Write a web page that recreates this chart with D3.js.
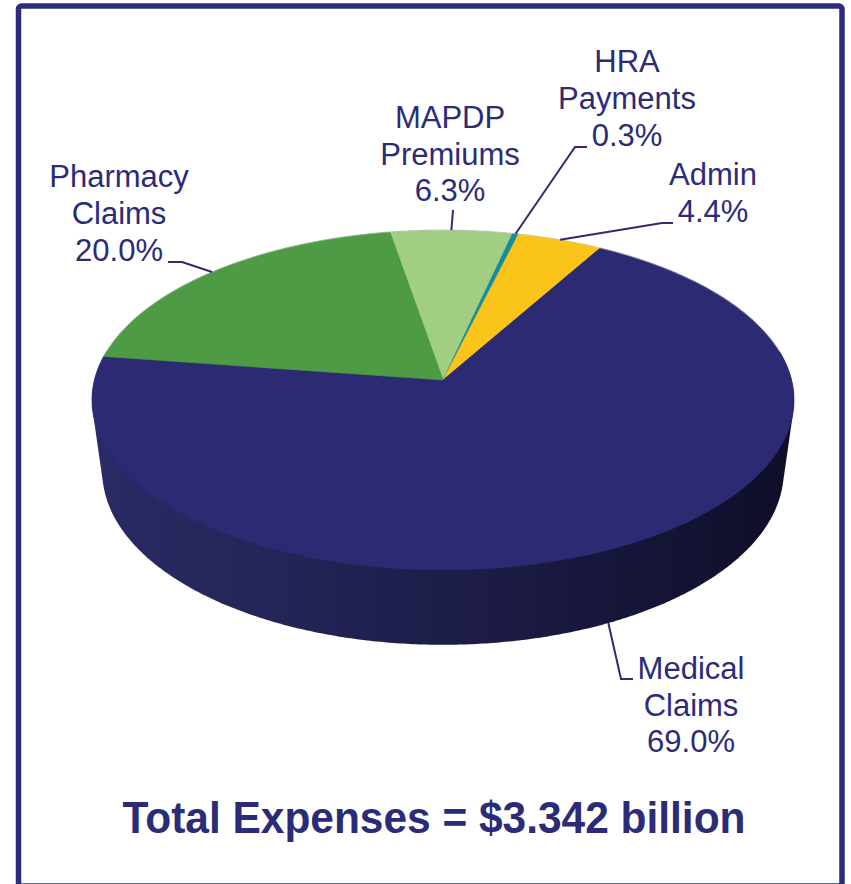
<!DOCTYPE html>
<html>
<head>
<meta charset="utf-8">
<script src="https://cdn.jsdelivr.net/npm/d3@7"></script>
<style>
  html, body { margin: 0; padding: 0; background: #ffffff; }
  svg { display: block; }
  text { font-family: "Liberation Sans", Arial, sans-serif; }
</style>
</head>
<body>
<svg id="chart" width="851" height="884"></svg>
<script>
// ---- data ----
const categories = ["MAPDP Premiums", "HRA Payments", "Admin", "Medical Claims", "Pharmacy Claims"];
const labelNames = [["MAPDP", "Premiums"], ["HRA", "Payments"], ["Admin"], ["Medical", "Claims"], ["Pharmacy", "Claims"]];
const values = [6.3, 0.3, 4.4, 69.0, 20.0];
const colors = ["#a0cf84", "#0f8fa5", "#fbc41b", "#2b2a73", "#4e9a45"];
const title = "Total Expenses = $3.342 billion";

// ---- layout ----
const ink = "#2b2b78";
const P = { cx: 443, cy: 380, A: 348.6, B: 167.6, k: 0.1176, m: 0.03, depth: 74 };
const startDeg = -9.8;

// label layout: text centre x, first baseline, line gap, leader elbow + end
const labelLayout = [
  { x: 450, y: 128, gap: 36.5, elbow: [453, 210], end: null, onSide: false },
  { x: 627, y: 72, gap: 37, elbow: [575, 147], end: [587, 147], onSide: false },
  { x: 713, y: 185, gap: 37, elbow: [662, 223], end: [673, 223], onSide: false },
  { x: 691, y: 679, gap: 36.5, elbow: [621, 679], end: [633, 679], onSide: true },
  { x: 119, y: 187, gap: 37, elbow: [182, 262], end: [168, 262], onSide: false }
];

const svg = d3.select("#chart");

// frame
svg.append("rect")
  .attr("x", 18.5).attr("y", 6).attr("width", 823.5).attr("height", 880)
  .attr("rx", 3)
  .attr("fill", "#fff").attr("stroke", "#2b2d7a").attr("stroke-width", 5.5);

// projection of disk point (angle clockwise from 12 o'clock), h=0 top, h=1 bottom
function proj(theta, h, r = 1) {
  const u = r * Math.sin(theta), v = -r * Math.cos(theta);
  const s = 1 / (1 - P.k * v + P.m * h);
  return [P.cx + P.A * u * s, P.cy + (P.B * v + P.depth * h) * s];
}

const pie = d3.pie().sort(null).value(d => d)
  .startAngle(startDeg * Math.PI / 180)
  .endAngle(startDeg * Math.PI / 180 + 2 * Math.PI);
const arcs = pie(values);

// side gradient
const defs = svg.append("defs");
const grad = defs.append("linearGradient").attr("id", "sideGrad")
  .attr("gradientUnits", "userSpaceOnUse")
  .attr("x1", 93).attr("y1", 0).attr("x2", 795).attr("y2", 0);
grad.append("stop").attr("offset", "0").attr("stop-color", "#2a2a66");
grad.append("stop").attr("offset", "0.15").attr("stop-color", "#27275d");
grad.append("stop").attr("offset", "0.55").attr("stop-color", "#1c1c47");
grad.append("stop").attr("offset", "1").attr("stop-color", "#0e0e28");

// body silhouette = hull of top and bottom rims (top face is drawn over it)
const ring = d3.range(0, 360, 0.5).map(d => d * Math.PI / 180);
const hull = d3.polygonHull(ring.map(a => proj(a, 0)).concat(ring.map(a => proj(a, 1))));
svg.append("path")
  .attr("d", d3.line()(hull) + "Z")
  .attr("fill", "url(#sideGrad)");

// top faces
function slicePath(a) {
  const n = Math.max(2, Math.ceil((a.endAngle - a.startAngle) / 0.01));
  const pts = [[P.cx, P.cy]];
  for (let i = 0; i <= n; i++) {
    const t = a.startAngle + (a.endAngle - a.startAngle) * i / n;
    pts.push(proj(t, 0));
  }
  return d3.line()(pts) + "Z";
}
svg.append("g").selectAll("path").data(arcs).join("path")
  .attr("d", d => slicePath(d))
  .attr("fill", (d, i) => colors[i])
  .attr("stroke", (d, i) => colors[i])
  .attr("stroke-width", 0.6);

// faint rim highlight on back edge
const rimPts = d3.range(-80, 81, 1).map(d => proj(d * Math.PI / 180, 0));
svg.append("path").attr("d", d3.line()(rimPts)).attr("fill", "none")
  .attr("stroke", "#d9d9d9").attr("stroke-width", 0.8).attr("opacity", 0.7);

// leaders + labels
const fmt = d3.format(".1f");
arcs.forEach((a, i) => {
  const L = labelLayout[i];
  const mid = (a.startAngle + a.endAngle) / 2;
  const anchor = proj(mid, L.onSide ? 1 : 0);
  const pts = [anchor, L.elbow];
  if (L.end) pts.push(L.end);
  svg.append("path").attr("d", d3.line()(pts))
    .attr("fill", "none").attr("stroke", ink).attr("stroke-width", 2);
  const lines = labelNames[i].concat([fmt(values[i]) + "%"]);
  const t = svg.append("text")
    .attr("fill", ink).attr("font-size", 31).attr("text-anchor", "middle");
  lines.forEach((ln, j) => {
    t.append("tspan").attr("x", L.x).attr("y", L.y + j * L.gap).text(ln);
  });
});

// title
svg.append("text")
  .attr("x", 434).attr("y", 833)
  .attr("text-anchor", "middle")
  .attr("font-size", 44).attr("font-weight", "bold")
  .attr("fill", ink)
  .attr("textLength", 623).attr("lengthAdjust", "spacingAndGlyphs")
  .text(title);
</script>
</body>
</html>
